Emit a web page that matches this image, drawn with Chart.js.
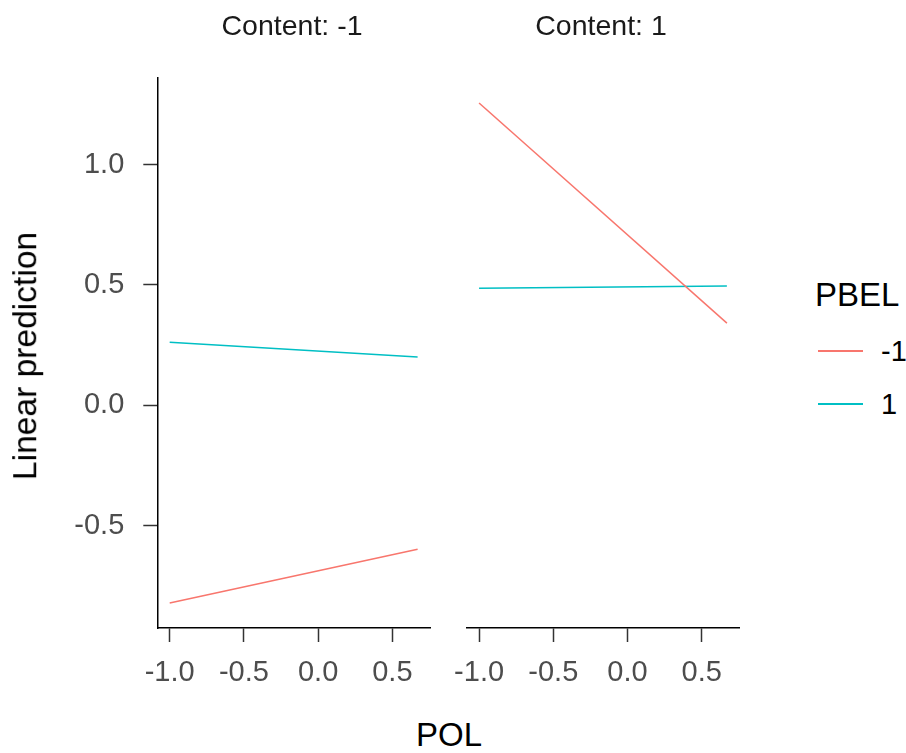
<!DOCTYPE html>
<html>
<head>
<meta charset="utf-8">
<script src="https://cdn.jsdelivr.net/npm/chart.js@4/dist/chart.umd.min.js"></script>
<style>
html,body{margin:0;padding:0;background:#fff;width:906px;height:753px;overflow:hidden;font-family:"Liberation Sans",Arial,sans-serif;}
.t{position:absolute;white-space:nowrap;line-height:1;}
.key{position:absolute;width:45px;height:0;}
</style>
</head>
<body>
<canvas id="c1" width="450" height="700" style="position:absolute;left:0;top:0;"></canvas>
<canvas id="c2" width="300" height="700" style="position:absolute;left:450px;top:0;"></canvas>

<div class="t" style="left:292px;top:25px;transform:translate(-50%,-50%);font-size:28.5px;color:#1a1a1a;">Content: -1</div>
<div class="t" style="left:601px;top:25px;transform:translate(-50%,-50%);font-size:28.5px;color:#1a1a1a;">Content: 1</div>
<div class="t" style="left:25px;top:356px;transform:translate(-50%,-50%) rotate(-90deg);font-size:33.6px;color:#000;">Linear prediction</div>
<div class="t" style="left:449px;top:734px;transform:translate(-50%,-50%);font-size:33px;color:#000;">POL</div>
<div class="t" style="left:815px;top:293.5px;transform:translate(0,-50%);font-size:33px;color:#000;">PBEL</div>
<div class="key" style="left:818px;top:350px;border-top:2px solid #F8766D;"></div>
<div class="key" style="left:818px;top:403px;border-top:2px solid #00BFC4;"></div>
<div class="t" style="left:881px;top:351px;transform:translate(0,-50%);font-size:29px;color:#000;">-1</div>
<div class="t" style="left:881px;top:404px;transform:translate(0,-50%);font-size:29px;color:#000;">1</div>

<script>
// ---- data ----
const polValues = [-1, 0.67];                 // POL (x) endpoints
const contentLevels = ['-1', '1'];
const pbelLevels = ['-1', '1'];
const pbelColors = ['#F8766D', '#00BFC4'];
// Linear prediction, Content = -1
const predContentNeg_PBELneg = [-0.822, -0.599];
const predContentNeg_PBELpos = [0.262, 0.200];
// Linear prediction, Content = 1
const predContentPos_PBELneg = [1.256, 0.341];
const predContentPos_PBELpos = [0.486, 0.495];
// tick labels
const xTicks = [-1.0, -0.5, 0.0, 0.5];
const yTicks = [-0.5, 0.0, 0.5, 1.0];

// ---- ggplot-like 5% expansion ----
const allY = [].concat(predContentNeg_PBELneg, predContentNeg_PBELpos, predContentPos_PBELneg, predContentPos_PBELpos);
const yMinD = Math.min(...allY), yMaxD = Math.max(...allY);
const ySpan = yMaxD - yMinD;
const yMin = yMinD - 0.05 * ySpan, yMax = yMaxD + 0.05 * ySpan;
const xMinD = Math.min(...polValues), xMaxD = Math.max(...polValues);
const xSpan = xMaxD - xMinD;
const xMin = xMinD - 0.05 * xSpan, xMax = xMaxD + 0.05 * xSpan;

const FONT = '"Liberation Sans", Arial, sans-serif';

function series(vals, i) {
  return {
    label: pbelLevels[i],
    data: polValues.map((x, k) => ({x: x, y: vals[k]})),
    borderColor: pbelColors[i],
    backgroundColor: pbelColors[i],
    borderWidth: 1.5,
    pointRadius: 0,
    tension: 0,
    fill: false
  };
}

function axisCommon() {
  return {
    border: {display: true, color: '#000', width: 1.5},
    grid: {display: true, drawOnChartArea: false, drawTicks: true, tickLength: 14, tickWidth: 1.5, tickColor: '#333', color: '#333'},
  };
}

function makeChart(id, d1, d2, showY, padding) {
  const xa = Object.assign(axisCommon(), {
    type: 'linear', min: xMin, max: xMax,
    afterBuildTicks: s => { s.ticks = xTicks.map(v => ({value: v})); },
    afterFit: s => { s.height = 72; s.paddingLeft = 0; s.paddingRight = 0; },
    ticks: {autoSkip: false, maxRotation: 0, padding: 14, color: '#4D4D4D',
      font: {family: FONT, size: 29}, callback: v => Number(v).toFixed(1)}
  });
  const ya = Object.assign(axisCommon(), {
    type: 'linear', min: yMin, max: yMax, display: showY,
    afterBuildTicks: s => { s.ticks = yTicks.map(v => ({value: v})); },
    afterFit: s => { if (showY) s.width = 157.3; s.paddingTop = 0; s.paddingBottom = 0; },
    ticks: {autoSkip: false, padding: 19, color: '#4D4D4D',
      font: {family: FONT, size: 29}, callback: v => Number(v).toFixed(1)}
  });
  return new Chart(document.getElementById(id), {
    type: 'line',
    data: {datasets: [series(d1, 0), series(d2, 1)]},
    options: {
      responsive: false, animation: false, devicePixelRatio: 1,
      layout: {padding: padding},
      plugins: {legend: {display: false}, tooltip: {enabled: false}, title: {display: false}},
      scales: {x: xa, y: ya}
    }
  });
}

makeChart('c1', predContentNeg_PBELneg, predContentNeg_PBELpos, true, {top: 78, left: 0, right: 20, bottom: 0});
makeChart('c2', predContentPos_PBELneg, predContentPos_PBELpos, false, {top: 78, left: 16.7, right: 10.7, bottom: 0});
</script>
</body>
</html>
